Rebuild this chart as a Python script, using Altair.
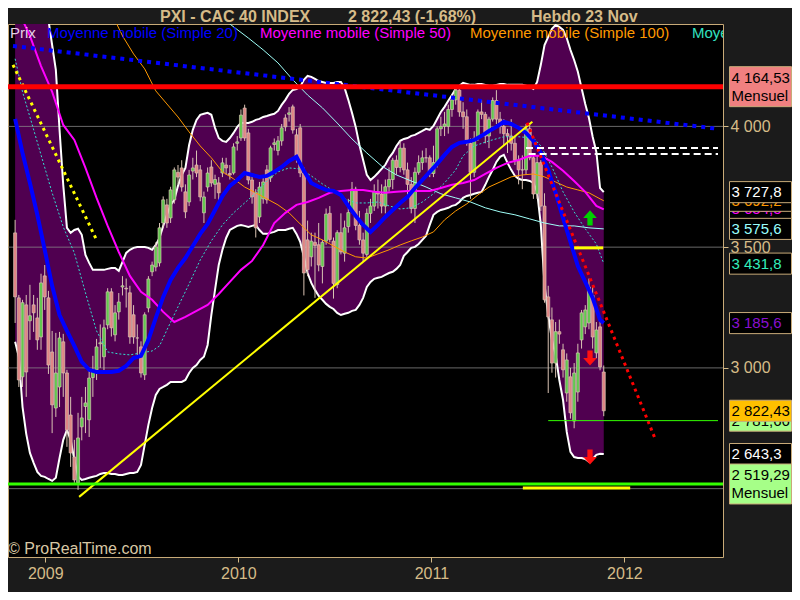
import altair as alt
import pandas as pd

# ---------------- data ----------------
WEEK0 = "2008-11-05"   # first weekly candle (weekly bars, Nov 2008 -> 23 Nov 2011)

opens = [3559, 3290, 2963, 3261, 3195, 3261, 3207, 3128, 3381, 3290,
         3066, 2834, 2921, 3108, 2979, 2805, 2631, 2524, 2756, 2840,
         2785, 2960, 2992, 3100, 3046, 3178, 3315, 3137, 3232, 3335,
         3330, 3311, 3220, 3124, 3087, 2971, 3248, 3398, 3418, 3435,
         3600, 3675, 3621, 3696, 3810, 3828, 3729, 3687, 3815, 3840,
         3820, 3642, 3749, 3832, 3760, 3766, 3807, 3840, 3805, 3807,
         3930, 3952, 4076, 3973, 3778, 3725, 3625, 3700, 3820, 3787,
         3925, 3900, 3940, 4035, 4050, 4081, 3965, 3994, 3807, 3530,
         3460, 3520, 3510, 3420, 3525, 3640, 3525, 3345, 3560, 3475,
         3585, 3650, 3740, 3590, 3530, 3470, 3640, 3670, 3730, 3720,
         3670, 3750, 3780, 3860, 3830, 3910, 3820, 3760, 3660, 3810,
         3850, 3870, 3870, 3805, 3850, 3990, 4000, 4000, 4070, 4110,
         4150, 4060, 4040, 3930, 3810, 3950, 4060, 4050, 3960, 4030,
         4107, 4030, 4000, 3970, 3960, 3930, 3860, 3820, 3820, 3990,
         3870, 3720, 3850, 3670, 3294, 3199, 3020, 3150, 3075, 2896,
         2963, 2780, 2900, 3116, 3170, 3186, 3300, 3062, 3170, 2983]
highs = [3613, 3302, 3282, 3302, 3344, 3302, 3290, 3390, 3426, 3319,
         3153, 3145, 3149, 3141, 2992, 2880, 2702, 2814, 2880, 2921,
         3000, 3050, 3120, 3180, 3200, 3330, 3330, 3260, 3310, 3380,
         3370, 3340, 3260, 3180, 3110, 3230, 3380, 3440, 3520, 3600,
         3710, 3700, 3750, 3830, 3840, 3860, 3760, 3820, 3870, 3900,
         3840, 3730, 3830, 3860, 3800, 3790, 3870, 3870, 3840, 3930,
         3960, 4070, 4090, 3990, 3800, 3740, 3770, 3790, 3840, 3920,
         3950, 3960, 4010, 4050, 4080, 4090, 3990, 4010, 3830, 3610,
         3560, 3560, 3600, 3530, 3660, 3670, 3540, 3570, 3640, 3610,
         3700, 3770, 3750, 3650, 3560, 3660, 3700, 3760, 3780, 3760,
         3780, 3830, 3870, 3880, 3940, 3930, 3850, 3790, 3830, 3880,
         3900, 3910, 3880, 3920, 4000, 4040, 4060, 4090, 4130, 4170,
         4160, 4100, 4070, 3950, 3980, 4070, 4110, 4060, 4040, 4120,
         4150, 4060, 4030, 3990, 4030, 3960, 3880, 3880, 4010, 4010,
         3880, 3880, 3860, 3723, 3340, 3250, 3190, 3200, 3100, 3060,
         3000, 3020, 3100, 3240, 3260, 3370, 3340, 3190, 3200, 3010]
lows = [3186, 2921, 2921, 2880, 3116, 3149, 3075, 3075, 3240, 2975,
        2730, 2797, 2838, 2880, 2673, 2590, 2524, 2495, 2700, 2730,
        2714, 2880, 2950, 3000, 2990, 3160, 3130, 3110, 3200, 3300,
        3250, 3100, 3100, 3040, 2960, 2950, 3230, 3380, 3400, 3420,
        3580, 3580, 3600, 3680, 3760, 3730, 3620, 3670, 3780, 3790,
        3690, 3600, 3730, 3750, 3700, 3680, 3790, 3800, 3780, 3800,
        3900, 3940, 3940, 3760, 3680, 3540, 3600, 3680, 3680, 3770,
        3900, 3880, 3920, 3980, 4020, 3970, 3850, 3790, 3300, 3380,
        3420, 3290, 3400, 3350, 3510, 3520, 3287, 3330, 3470, 3440,
        3560, 3640, 3570, 3510, 3440, 3460, 3600, 3650, 3660, 3640,
        3640, 3730, 3740, 3800, 3810, 3800, 3710, 3640, 3600, 3800,
        3820, 3850, 3790, 3790, 3830, 3960, 3960, 3970, 4040, 4090,
        4040, 3990, 3920, 3700, 3790, 3940, 4030, 3930, 3910, 4020,
        4010, 3970, 3920, 3890, 3900, 3840, 3760, 3740, 3800, 3860,
        3700, 3700, 3650, 3270, 2896, 2980, 2960, 3100, 2960, 2860,
        2790, 2750, 2860, 3080, 3140, 3160, 3080, 3040, 2990, 2800]
closes = [3294, 2950, 3270, 2983, 3216, 3228, 3116, 3352, 3294, 3012,
          2847, 2979, 3124, 2979, 2743, 2648, 2536, 2710, 2793, 2855,
          2958, 2990, 3087, 3104, 3166, 3315, 3166, 3228, 3273, 3340,
          3327, 3128, 3128, 3124, 2979, 3220, 3368, 3426, 3501, 3580,
          3696, 3600, 3737, 3820, 3790, 3749, 3646, 3799, 3828, 3807,
          3708, 3708, 3807, 3766, 3780, 3725, 3849, 3828, 3799, 3915,
          3936, 4047, 3952, 3778, 3708, 3580, 3749, 3770, 3696, 3911,
          3932, 3940, 3994, 3998, 4056, 3985, 3874, 3807, 3393, 3406,
          3525, 3507, 3426, 3520, 3637, 3532, 3350, 3560, 3480, 3580,
          3643, 3740, 3590, 3530, 3475, 3640, 3670, 3730, 3720, 3670,
          3750, 3780, 3860, 3830, 3910, 3820, 3760, 3660, 3810, 3850,
          3870, 3870, 3805, 3850, 3990, 4000, 4010, 4070, 4110, 4150,
          4060, 4040, 3930, 3810, 3950, 4060, 4050, 3960, 4030, 4107,
          4030, 4000, 3970, 3960, 3930, 3860, 3820, 3820, 3990, 3870,
          3720, 3850, 3670, 3282, 3211, 3020, 3150, 3140, 2992, 3033,
          2814, 2979, 3062, 3228, 3240, 3335, 3128, 3157, 3004, 2822.43]

# Bollinger bands (upper / lower), one value per week
boll_up = [4689, 4648, 4607, 4565, 4532, 4515, 4507, 4499, 4482, 4441,
           4337, 4234, 3986, 3758, 3580, 3559, 3571, 3576, 3551, 3468,
           3435, 3406, 3406, 3406, 3406, 3410, 3414, 3414, 3402, 3439,
           3476, 3489, 3497, 3501, 3501, 3501, 3497, 3489, 3509, 3538,
           3588, 3634, 3675, 3696, 3754, 3799, 3828, 3923, 3986, 4027,
           4048, 4052, 4056, 4048, 3994, 3952, 3940, 3936, 3952, 3973,
           3998, 4014, 4014, 4014, 4019, 4027, 4031, 4039, 4043, 4048,
           4052, 4064, 4089, 4110, 4135, 4151, 4155, 4164, 4193, 4209,
           4205, 4197, 4188, 4184, 4180, 4180, 4180, 4184, 4184, 4159,
           4110, 4056, 3998, 3923, 3861, 3799, 3778, 3791, 3807, 3824,
           3841, 3870, 3890, 3919, 3940, 3948, 3952, 3961, 3965, 3973,
           3981, 3990, 3986, 4002, 4031, 4060, 4081, 4106, 4130, 4155,
           4168, 4180, 4176, 4172, 4172, 4176, 4176, 4172, 4168, 4168,
           4172, 4176, 4176, 4172, 4172, 4172, 4172, 4172, 4168, 4164,
           4155, 4184, 4255, 4337, 4371, 4404, 4420, 4412, 4400, 4366,
           4317, 4275, 4226, 4159, 4093, 4035, 3957, 3894, 3745, 3727.8]
boll_low = [3108, 3046, 2839, 2727, 2648, 2607, 2569, 2553, 2549, 2540,
            2532, 2545, 2627, 2702, 2743, 2702, 2620, 2550, 2536, 2540,
            2545, 2549, 2553, 2561, 2565, 2565, 2561, 2561, 2557, 2557,
            2561, 2565, 2565, 2569, 2598, 2681, 2764, 2834, 2888, 2913,
            2921, 2930, 2942, 2942, 2942, 2942, 2950, 2979, 3000, 3012,
            3033, 3046, 3095, 3219, 3323, 3426, 3489, 3538, 3571, 3580,
            3588, 3592, 3588, 3584, 3588, 3592, 3571, 3555, 3555, 3559,
            3563, 3571, 3571, 3571, 3576, 3580, 3555, 3522, 3460, 3393,
            3352, 3323, 3298, 3282, 3265, 3253, 3244, 3228, 3219, 3224,
            3228, 3236, 3240, 3261, 3290, 3335, 3356, 3369, 3373, 3377,
            3385, 3393, 3398, 3410, 3426, 3464, 3480, 3497, 3501, 3513,
            3530, 3547, 3592, 3634, 3646, 3654, 3658, 3663, 3671, 3675,
            3687, 3704, 3712, 3716, 3721, 3725, 3729, 3758, 3791, 3820,
            3853, 3874, 3882, 3849, 3820, 3795, 3783, 3778, 3778, 3774,
            3766, 3729, 3592, 3344, 3219, 3116, 3054, 2950, 2867, 2735,
            2652, 2631, 2627, 2627, 2623, 2611, 2623, 2640, 2644, 2643.3]

# moving averages, read at given week numbers
ma20_weeks = list(range(0, 160, 2)) + [159]
ma20_vals = [4031, 3890, 3766, 3634, 3489, 3340, 3219, 3153, 3091, 3025,
             2992, 2983, 2983, 2983, 2988, 3008, 3041, 3050, 3116, 3207,
             3294, 3364, 3414, 3455, 3505, 3555, 3596, 3654, 3712, 3754,
             3778, 3807, 3799, 3791, 3795, 3812, 3832, 3857, 3874, 3816,
             3766, 3750, 3737, 3733, 3716, 3671, 3629, 3592, 3563, 3592,
             3625, 3654, 3683, 3708, 3745, 3778, 3812, 3845, 3882, 3915,
             3932, 3936, 3944, 3961, 3981, 3998, 4019, 4010, 3994, 3973,
             3940, 3890, 3820, 3725, 3621, 3522, 3422, 3356, 3290, 3199, 3185.6]
ma50_weeks = list(range(1, 160, 3)) + [159]
ma50_vals = [4474, 4375, 4250, 4143, 4006, 3944, 3828, 3704, 3588, 3480,
             3381, 3315, 3282, 3232, 3190, 3211, 3236, 3261, 3306, 3356,
             3406, 3443, 3509, 3600, 3642, 3675, 3687, 3704, 3725, 3733,
             3737, 3737, 3729, 3725, 3729, 3733, 3733, 3733, 3745, 3758,
             3766, 3778, 3803, 3828, 3849, 3861, 3878, 3878, 3853, 3816,
             3774, 3729, 3671, 3656]
ma100_weeks = list(range(26, 159, 3)) + [159]
ma100_vals = [4470, 4375, 4300, 4238, 4147, 4093, 4039, 3977, 3919, 3870,
              3812, 3783, 3749, 3725, 3700, 3675, 3642, 3596, 3551, 3530,
              3505, 3480, 3460, 3455, 3472, 3489, 3509, 3526, 3542, 3563,
              3613, 3650, 3679, 3716, 3749, 3770, 3791, 3799, 3803, 3791,
              3770, 3749, 3737, 3725, 3700, 3692]
ma200_weeks = [51, 58, 63, 67, 71, 75, 79, 83, 87, 91, 95, 99, 103, 107,
               111, 115, 119, 123, 127, 131, 135, 139, 143, 147, 151, 155, 159]
ma200_vals = [4524, 4424, 4366, 4317, 4263, 4193, 4130, 4077, 4014, 3948,
              3890, 3836, 3799, 3774, 3749, 3721, 3704, 3687, 3663, 3646,
              3634, 3617, 3600, 3588, 3588, 3580, 3575.6]
mad_weeks = [0, 2, 4, 7, 10, 13, 16, 19, 22, 25, 28, 31, 34, 37, 39, 41, 44,
             47, 50, 53, 56, 59, 62, 65, 68, 71, 74, 77, 80, 83, 86, 89, 92,
             95, 98, 101, 104, 107, 110, 113, 116, 119, 121, 124, 128, 132,
             136, 140, 142, 145, 148, 151, 154, 157, 159]
mad_vals = [4280, 4143, 4039, 3882, 3725, 3584, 3476, 3311, 3153, 3066,
            3058, 3054, 3062, 3070, 3091, 3157, 3253, 3348, 3447, 3526,
            3592, 3642, 3683, 3725, 3774, 3812, 3828, 3824, 3795, 3762,
            3733, 3700, 3683, 3683, 3687, 3671, 3658, 3663, 3687, 3721,
            3766, 3820, 3878, 3919, 3940, 3957, 3957, 3952, 3919, 3832,
            3729, 3646, 3576, 3513, 3431.8]

# horizontal levels / trend lines (dates, values)
monthly_high = 4164.53
monthly_low = 2519.29
grid_levels = [2500, 3000, 3500, 4000]
axis_ticks = [3000, 3500, 4000]
blue_trend = (["2008-11-01", "2012-06-26"], [4333, 3990])
yellow_dotted = (["2008-11-01", "2009-04-08"], [4255, 3530])
yellow_trend = (["2009-03-06", "2011-07-11"], [2466, 4019])
red_trend = (["2011-07-01", "2012-02-29"], [4015, 2702])
white_dash1 = (["2011-06-29", "2012-06-26"], [3911, 3911])
white_dash2 = (["2011-07-04", "2012-06-26"], [3886, 3886])
yellow_short1 = (["2011-09-28", "2011-11-22"], [3497, 3497])
yellow_short2 = (["2011-06-23", "2012-01-12"], [2503, 2503])
green_thin = (["2011-08-10", "2012-06-26"], [2781.66, 2781.66])

arrow_dates = ["2011-10-28", "2011-10-28", "2011-10-28"]
arrow_vals = [3621, 3041, 2631]
arrow_dirs = ["up", "down", "down"]

# right-hand value boxes, bottom to top drawing order
box_vals = [3656, 3692, 3727.8, 3575.6, 4164.53, 3431.8, 3185.6, 2781.66, 2822.43, 2643.3, 2519.29]
box_text = ["3 654,5", "3 692,2", "3 727,8", "3 575,6", "4 164,53", "3 431,8", "3 185,6",
            "2 781,66", "2 822,43", "2 643,3", "2 519,29"]
box_sub = ["", "", "", "", "Mensuel", "", "", "", "", "", "Mensuel"]
box_fill = ["#000000", "#000000", "#000000", "#000000", "#f08080", "#000000", "#000000",
            "#a6ff88", "#ffc000", "#000000", "#a6ff88"]
box_ink = ["#ff00ff", "#ff9900", "#ffffff", "#99ffff", "#000000", "#33eebb", "#8a10d0",
           "#000000", "#000000", "#ffffff", "#000000"]

# ---------------- styling ----------------
TAN = "#d6bb88"
BORDER = "#c8aa78"
BG = "#1b1b1b"
W, H = 715, 533
FONT = "Liberation Sans"

weeks = pd.date_range(WEEK0, periods=len(closes), freq="7D")
cdf = pd.DataFrame({"date": weeks, "open": opens, "high": highs, "low": lows, "close": closes})
bdf = pd.DataFrame({"date": weeks, "upper": boll_up, "lower": boll_low})


def series(idx, vals):
    return pd.DataFrame({"date": weeks[idx], "value": vals})


XS = alt.Scale(domain=[alt.DateTime(year=2008, month=11, date=1),
                       alt.DateTime(year=2012, month=6, date=26)])
YS = alt.Scale(domain=[2217, 4424], nice=False, zero=False)

x_axis = alt.Axis(values=[alt.DateTime(year=y, month=1, date=1) for y in (2009, 2010, 2011, 2012)],
                  format="%Y", tickSize=5, tickColor=TAN, labelColor=TAN, labelFont=FONT,
                  labelFontSize=16, labelPadding=3, domain=False, grid=False, labelFlush=False,
                  labelOverlap=False, title=None)
y_axis = alt.Axis(orient="right", values=axis_ticks, tickSize=5, tickColor=TAN,
                  labelColor=TAN, labelFont=FONT, labelFontSize=16, labelPadding=2,
                  domain=False, grid=False, labelOverlap=False, title=None,
                  labelExpr="replace(format(datum.value, ','), ',', ' ')")


def X():
    return alt.X("date:T", scale=XS, axis=x_axis, title=None)


def Y(field):
    return alt.Y(f"{field}:Q", scale=YS, axis=y_axis, title=None)


def line(df, color, width, dash=None, clip=True):
    kw = dict(color=color, strokeWidth=width, clip=clip)
    if dash:
        kw["strokeDash"] = dash
    return alt.Chart(df).mark_line(**kw).encode(x=X(), y=Y("value"))


def seg(pair, color, width, dash=None):
    df = pd.DataFrame({"date": pd.to_datetime(pair[0]), "value": pair[1]})
    return line(df, color, width, dash)


def label(text, px, py, color, size=15, bold=False, align="left", clip=False):
    return alt.Chart(pd.DataFrame({"t": [text]})).mark_text(
        align=align, baseline="middle", font=FONT, fontSize=size,
        fontWeight="bold" if bold else "normal", color=color, clip=clip
    ).encode(x=alt.value(px), y=alt.value(py), text="t:N")


layers = []
# Bollinger band
layers.append(alt.Chart(bdf).mark_area(color="#500050", clip=True).encode(
    x=X(), y=Y("upper"), y2="lower:Q"))
# grid
layers.append(alt.Chart(pd.DataFrame({"level": grid_levels})).mark_rule(
    color="#8c8c8c", strokeWidth=1, opacity=0.75).encode(y=Y("level")))
# band edges
layers.append(alt.Chart(bdf).mark_line(color="white", strokeWidth=2, clip=True).encode(x=X(), y=Y("upper")))
layers.append(alt.Chart(bdf).mark_line(color="white", strokeWidth=2, clip=True).encode(x=X(), y=Y("lower")))
# candles
WICK = "#d9c3b3"
layers.append(alt.Chart(cdf).mark_rule(color=WICK, strokeWidth=1, clip=True).encode(
    x=X(), y=Y("low"), y2="high:Q"))
layers.append(alt.Chart(cdf).mark_bar(width=3, stroke=WICK, strokeWidth=0.7, clip=True).encode(
    x=X(), y=Y("open"), y2="close:Q",
    fill=alt.condition("datum.close >= datum.open", alt.value("#62c84f"), alt.value("#e08585"))))
# moving averages
layers.append(line(series(ma100_weeks, ma100_vals), "#ff9900", 1))
layers.append(line(series(ma200_weeks, ma200_vals), "#9ffff8", 1))
layers.append(line(series(mad_weeks, mad_vals), "#33e0d0", 1, [2, 2]))
layers.append(line(series(ma50_weeks, ma50_vals), "#ff00ff", 2))
layers.append(line(series(ma20_weeks, ma20_vals), "#0000ff", 4))
# trend lines
layers.append(seg(blue_trend, "#0000ff", 4, [4, 5]))
layers.append(seg(yellow_dotted, "#ffff00", 3, [3, 4]))
layers.append(seg(yellow_trend, "#ffff00", 2))
layers.append(seg(red_trend, "#ff0000", 3, [3, 4]))
layers.append(seg(white_dash1, "#ffffff", 2, [7, 4]))
layers.append(seg(white_dash2, "#ffffff", 2, [7, 4]))
layers.append(seg(yellow_short1, "#ffff00", 3))
layers.append(seg(yellow_short2, "#ffff00", 3))
layers.append(seg(green_thin, "#33ff00", 1))
layers.append(alt.Chart(pd.DataFrame({"v": [monthly_high]})).mark_rule(
    color="#ff0000", strokeWidth=5).encode(y=Y("v")))
layers.append(alt.Chart(pd.DataFrame({"v": [monthly_low]})).mark_rule(
    color="#33ff00", strokeWidth=3).encode(y=Y("v")))
# arrows
UP = "M-0.35,1V0H-0.9L0,-1L0.9,0H0.35V1Z"
DOWN = "M-0.35,-1V0H-0.9L0,1L0.9,0H0.35V-1Z"
adf = pd.DataFrame({"date": pd.to_datetime(arrow_dates), "value": arrow_vals, "dir": arrow_dirs})
layers.append(alt.Chart(adf[adf.dir == "up"]).mark_point(
    shape=UP, size=230, filled=True, fill="#00d000", opacity=1, strokeWidth=0).encode(x=X(), y=Y("value")))
layers.append(alt.Chart(adf[adf.dir == "down"]).mark_point(
    shape=DOWN, size=230, filled=True, fill="#ff1010", opacity=1, strokeWidth=0).encode(x=X(), y=Y("value")))

# legend row & title & copyright
layers.append(label("Prix", 2, 9, "#e6d2e6"))
layers.append(label("Moyenne mobile (Simple 20)", 39, 9, "#0000ff"))
layers.append(label("Moyenne mobile (Simple 50)", 252, 9, "#ff00ff"))
layers.append(label("Moyenne mobile (Simple 100)", 462, 9, "#ff9900"))
layers.append(label("Moyenne mobile (Simple 200)", 684, 9, "#33e0c0", clip=True))
layers.append(label("PXI - CAC 40 INDEX", 152, -7, TAN, 16, True))
layers.append(label("2 822,43 (-1,68%)", 340, -7, TAN, 16, True))
layers.append(label("Hebdo  23 Nov", 523, -7, TAN, 16, True))
layers.append(label("\u00a9 ProRealTime.com", 0, 525, "#d8c7a4", 16))

# right-hand value boxes
BOX1 = "M-1,-0.34H1V0.34H-1Z"
BOX2 = "M-1,-0.645H1V0.645H-1Z"
for v, t, s, f, ink in zip(box_vals, box_text, box_sub, box_fill, box_ink):
    bdf_ = pd.DataFrame({"value": [v], "t": [t], "s": [s]})
    base = alt.Chart(bdf_)
    layers.append(base.mark_point(shape=BOX2 if s else BOX1, size=3844, filled=True, fill=f,
                                  stroke=BORDER, strokeWidth=1, opacity=1).encode(
        x=alt.value(752.5), y=Y("value")))
    layers.append(base.mark_text(align="left", baseline="middle", font=FONT, fontSize=15,
                                 color=ink, dy=-9 if s else 0).encode(
        x=alt.value(723.5), y=Y("value"), text="t:N"))
    if s:
        layers.append(base.mark_text(align="left", baseline="middle", font=FONT, fontSize=15,
                                     color=ink, dy=9).encode(
            x=alt.value(723.5), y=Y("value"), text="s:N"))

chart = alt.layer(*layers).properties(
    width=W, height=H,
    padding={"left": 0, "top": 16, "right": 69, "bottom": 35},
    autosize=alt.AutoSizeParams(type="none"),
).configure(background=BG).configure_view(fill="#000000", stroke=BORDER, strokeWidth=1)

chart.save("out.html", embed_options={"renderer": "svg", "actions": False})
